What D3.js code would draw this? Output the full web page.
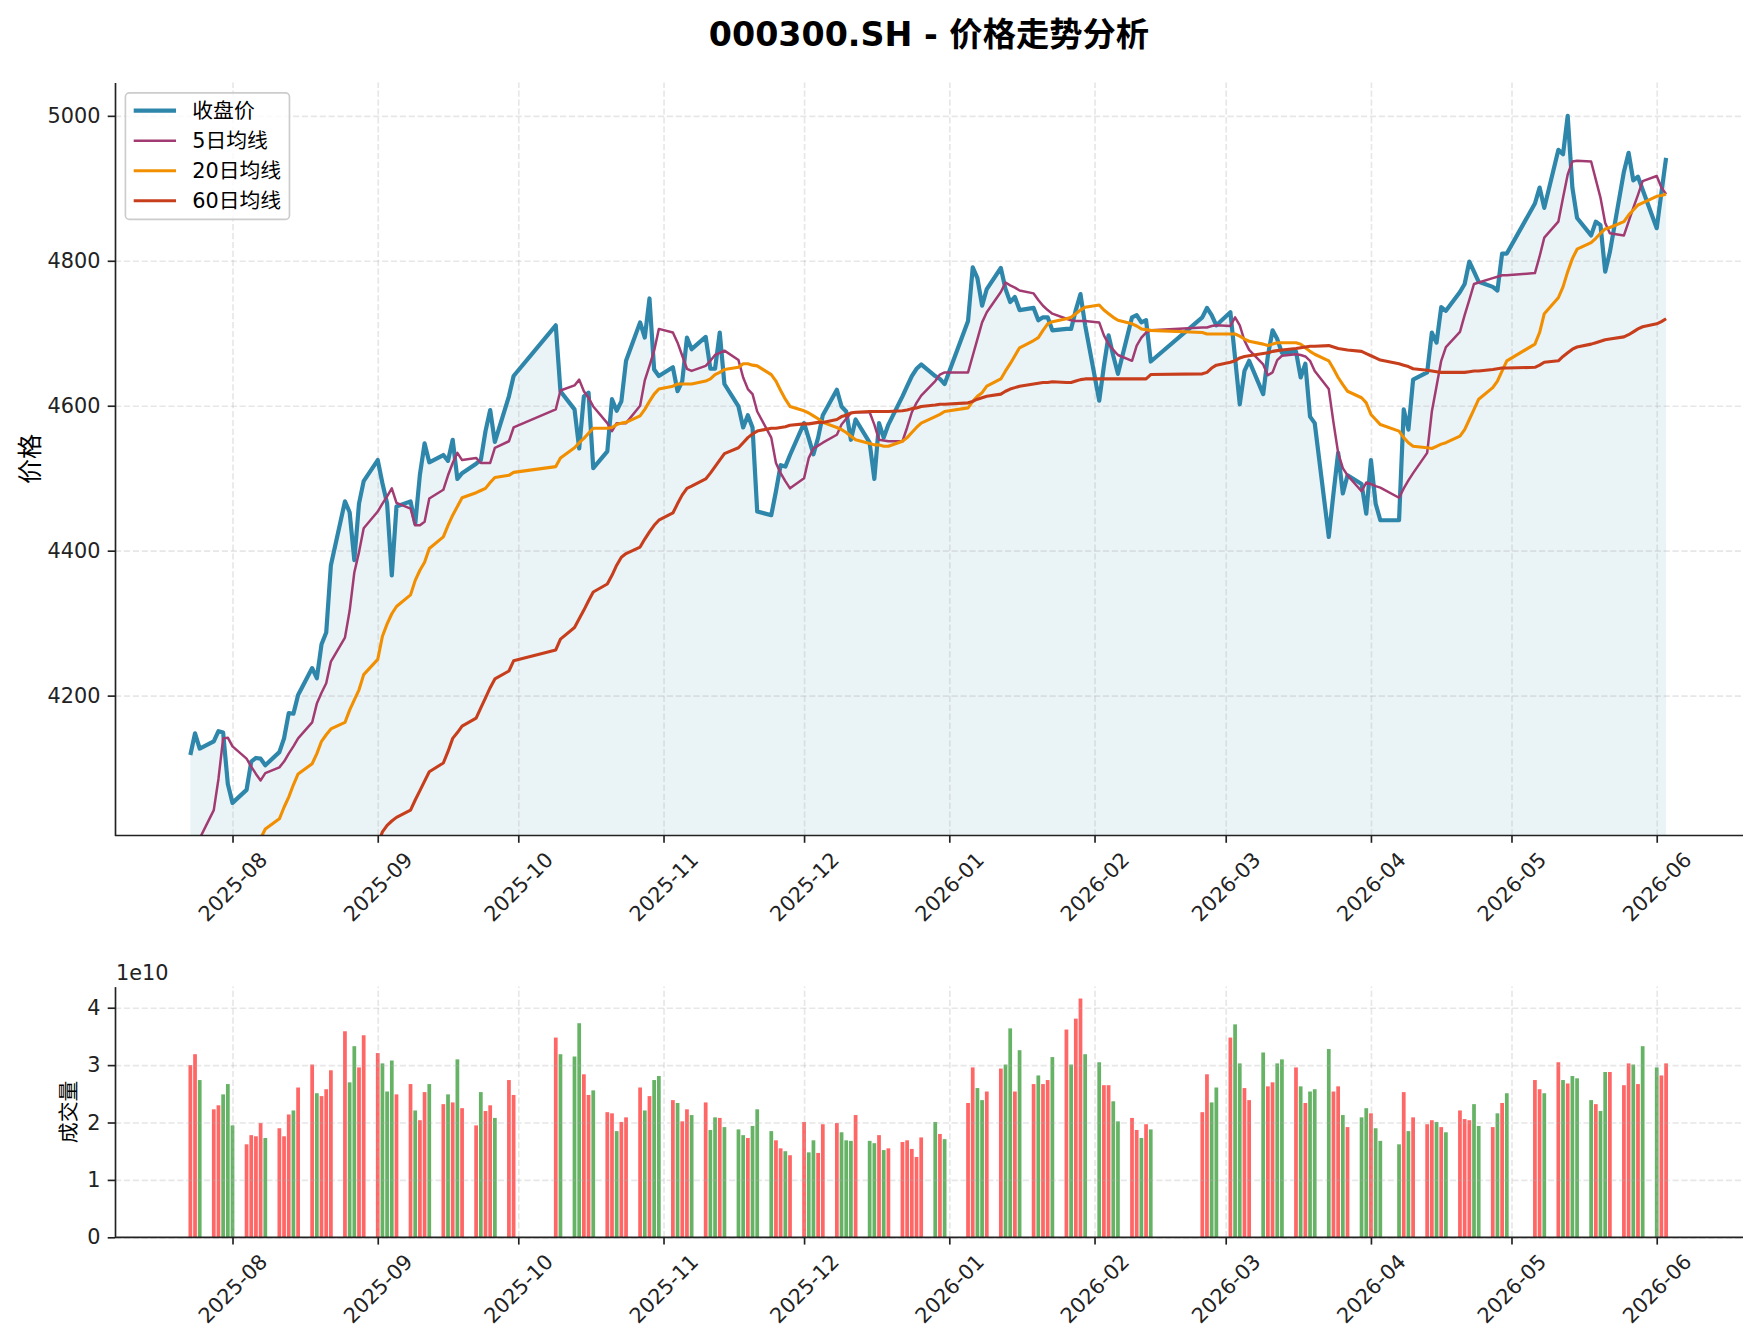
<!DOCTYPE html>
<html>
<head>
<meta charset="utf-8">
<script src="https://cdn.jsdelivr.net/npm/d3@7"></script>
<style>
  body { margin: 0; background: #fff; }
  svg { display: block; font-family: "DejaVu Sans", "Noto Sans CJK SC", sans-serif; }
</style>
</head>
<body>
<svg id="chart" width="1757" height="1343"></svg>
<script>
// 交易日范围 (工作日, 去掉节假日)
const startDate = "2025-07-23";
const endDate = "2026-06-03";
const holidays = [
    "2025-10-01", "2025-10-02", "2025-10-03", "2025-10-06", "2025-10-07", "2025-10-08",
    "2026-01-01", "2026-01-02",
    "2026-02-16", "2026-02-17", "2026-02-18", "2026-02-19", "2026-02-20", "2026-02-23",
    "2026-04-06", "2026-05-01", "2026-05-04", "2026-05-05"
];

const monthTicks = ["2025-08", "2025-09", "2025-10", "2025-11", "2025-12", "2026-01",
    "2026-02", "2026-03", "2026-04", "2026-05", "2026-06"];
const priceTicks = [4200, 4400, 4600, 4800, 5000];
const volumeTicks = [0, 1, 2, 3, 4];
const seriesNames = ["收盘价", "5日均线", "20日均线", "60日均线"];

// 收盘价, one value per trading day
const closePrice = [
    4118, 4148, 4127,
    4137, 4151, 4149, 4078, 4052,
    // Aug
    4070, 4109, 4114, 4113, 4104,
    4122, 4141, 4176, 4175, 4201,
    4238, 4224, 4271, 4287, 4380,
    4468, 4453, 4387, 4465, 4496,
    // Sep
    4525, 4493, 4465, 4366, 4461,
    4468, 4437, 4505, 4548, 4522,
    4532, 4524, 4553, 4499, 4507,
    4520, 4525, 4565, 4594, 4550,
    4613, 4641,
    // Oct
    4711, 4620,
    4595, 4541, 4613, 4618, 4514,
    4537, 4609, 4593, 4606, 4662,
    4715, 4694, 4748, 4650, 4641,
    // Nov
    4653, 4620, 4634, 4694, 4678,
    4695, 4651, 4651, 4701, 4630,
    4599, 4570, 4587, 4570, 4454,
    4449, 4482, 4518, 4516, 4532,
    // Dec
    4576, 4555, 4533, 4556, 4587,
    4622, 4599, 4592, 4553, 4581,
    4549, 4499, 4576, 4556, 4574,
    4613, 4627, 4641, 4651, 4657,
    4641, 4637, 4630,
    // Jan
    4717, 4791, 4776, 4738, 4761,
    4790, 4761, 4743, 4750, 4732,
    4735, 4718, 4722, 4722, 4704,
    4706, 4706, 4732, 4754, 4711,
    // Feb
    4607, 4655, 4697, 4669, 4644,
    4722, 4725, 4715, 4718, 4661,
    4722, 4735, 4725, 4711,
    // Mar
    4729, 4666, 4602, 4648, 4662,
    4616, 4669, 4704, 4692, 4673,
    4675, 4639, 4658, 4585, 4576,
    4419, 4479, 4535, 4479, 4504,
    4492, 4451,
    // Apr
    4525, 4465, 4442,
    4442, 4595, 4567, 4636,
    4646, 4701, 4687, 4736, 4731,
    4757, 4768, 4799, 4785, 4771,
    4764, 4759, 4810, 4810,
    // May
    4879, 4901, 4873,
    4953, 4947, 5000, 4901, 4859,
    4835, 4854, 4849, 4785, 4812,
    4923, 4949, 4911, 4916, 4898,
    // Jun
    4845, 4894, 4942
];

const ma5 = [
    3900, 3960, 4003,
    4042, 4085, 4141, 4142, 4130,
    4113, 4102, 4092, 4083, 4093,
    4101, 4109, 4120, 4130, 4141,
    4163, 4189, 4204, 4217, 4247,
    4280, 4317, 4370, 4398, 4431,
    4454, 4465, 4475, 4486, 4466,
    4458, 4435, 4435, 4440, 4472,
    4484, 4504, 4521, 4535, 4525,
    4528, 4521, 4521, 4521, 4542,
    4551, 4570,
    4595, 4621,
    4628, 4636, 4620, 4611, 4599,
    4576, 4565, 4576, 4576, 4576,
    4600, 4635, 4655, 4676, 4706,
    4701, 4687, 4669, 4651, 4648,
    4655, 4662, 4670, 4673, 4676,
    4663, 4639, 4623, 4616, 4592,
    4556, 4521, 4507, 4496, 4486,
    4500, 4528, 4541, 4545, 4549,
    4560, 4574, 4582, 4590, 4591,
    4591, 4574, 4553, 4552, 4551,
    4551, 4570, 4591, 4604, 4614,
    4634, 4643, 4646,
    4646, 4669, 4692, 4715, 4729,
    4757, 4770, 4766, 4763, 4759,
    4755, 4746, 4738, 4732, 4727,
    4720, 4718, 4717, 4717, 4717,
    4715, 4697, 4685, 4677, 4670,
    4662, 4683, 4694, 4701, 4704,
    4708, 4708, 4710, 4711,
    4710, 4722, 4711, 4690, 4677,
    4657, 4642, 4646, 4663, 4669,
    4671, 4670, 4668, 4662, 4648,
    4623, 4577, 4535, 4514, 4504,
    4482, 4494,
    4492, 4489, 4487,
    4473, 4486, 4497, 4507,
    4535, 4592, 4627, 4662, 4681,
    4702, 4725, 4746, 4768, 4770,
    4776, 4778, 4780, 4780,
    4783, 4806, 4832,
    4854, 4887, 4919, 4937, 4938,
    4937, 4912, 4887, 4852, 4838,
    4835, 4854, 4873, 4891, 4910,
    4917, 4901, 4892
];

const ma20 = [
    null, null, null,
    null, null, null, null, null,
    null, null, 3980, 4003, 4016,
    4030, 4046, 4060, 4077, 4092,
    4106, 4120, 4137, 4146, 4154,
    4163, 4180, 4194, 4208, 4229,
    4250, 4282, 4299, 4313, 4323,
    4339, 4359, 4373, 4384, 4403,
    4419, 4435, 4449, 4461, 4473,
    4480, 4483, 4486, 4494, 4501,
    4504, 4508,
    4516, 4528,
    4542, 4549, 4555, 4562, 4569,
    4569, 4570, 4574, 4576, 4577,
    4586, 4595, 4606, 4616, 4623,
    4627, 4630, 4630, 4630, 4630,
    4634, 4637, 4643, 4646, 4650,
    4653, 4658, 4658, 4656, 4655,
    4643, 4634, 4621, 4609, 4599,
    4593, 4590, 4586, 4582, 4577,
    4570, 4567, 4563, 4558, 4553,
    4548, 4546, 4546, 4544, 4544,
    4551, 4556, 4563, 4570, 4576,
    4585, 4588, 4592,
    4597, 4606, 4613, 4618, 4627,
    4637, 4648, 4658, 4669, 4680,
    4690, 4694, 4704, 4713, 4716,
    4720, 4722, 4727, 4732, 4736,
    4739, 4732, 4727, 4722, 4718,
    4713, 4710, 4706, 4705, 4704,
    4701, 4699, 4699, 4699,
    4699, 4699, 4696, 4692, 4689,
    4685, 4683, 4685, 4687, 4687,
    4687, 4685, 4680, 4675, 4671,
    4662, 4651, 4639, 4629, 4620,
    4611, 4604,
    4588, 4581, 4574,
    4565, 4556, 4549, 4544,
    4542, 4541, 4544, 4547, 4549,
    4558, 4567, 4581, 4595, 4609,
    4625, 4634, 4648, 4662,
    4685, 4701, 4727,
    4749, 4764, 4785, 4803, 4816,
    4825, 4831, 4838, 4844, 4846,
    4854, 4863, 4870, 4877, 4880,
    4889, 4890, 4892
];

const ma60 = [
    null, null, null,
    null, null, null, null, null,
    null, null, null, null, null,
    null, null, null, null, null,
    null, null, null, null, null,
    null, null, null, null, 3985,
    3995, 4012, 4021, 4027, 4032,
    4042, 4056, 4069, 4082, 4095,
    4107, 4123, 4141, 4149, 4158,
    4169, 4183, 4197, 4211, 4223,
    4234, 4248,
    4263, 4278,
    4294, 4306, 4318, 4331, 4343,
    4354, 4366, 4380, 4391, 4396,
    4405, 4416, 4426, 4435, 4442,
    4452, 4465, 4477, 4486, 4489,
    4499, 4507, 4516, 4525, 4534,
    4542, 4549, 4556, 4561, 4565,
    4569, 4569, 4570, 4571, 4573,
    4575, 4575, 4576, 4577, 4577,
    4581, 4585, 4587, 4590, 4591,
    4592, 4592, 4592, 4592, 4592,
    4593, 4594, 4596, 4597, 4599,
    4601, 4602, 4602,
    4604, 4606, 4609, 4611, 4613,
    4616, 4620, 4623, 4625, 4627,
    4630, 4631, 4632, 4632, 4633,
    4632, 4632, 4634, 4636, 4637,
    4637, 4637, 4637, 4637, 4637,
    4637, 4637, 4637, 4637, 4643,
    4644, 4646, 4652, 4656,
    4660, 4662, 4666, 4668, 4669,
    4672, 4673, 4675, 4676, 4677,
    4679, 4680, 4681, 4682, 4682,
    4683, 4681, 4679, 4678, 4677,
    4675, 4672,
    4669, 4666, 4663,
    4658, 4656, 4654, 4651,
    4649, 4648, 4647, 4646, 4646,
    4646, 4646, 4647, 4648, 4648,
    4650, 4651, 4652, 4652,
    4653, 4656, 4660,
    4662, 4668, 4673, 4678, 4681,
    4685, 4687, 4689, 4691, 4692,
    4695, 4698, 4702, 4706, 4709,
    4713, 4716, 4720
];

// 成交量, in units of 1e10
const volume = [
    3.00, 3.19, 2.74,
    2.23, 2.30, 2.49, 2.67, 1.95,
    1.62, 1.78, 1.76, 1.99, 1.73,
    1.90, 1.76, 2.14, 2.21, 2.61,
    3.01, 2.51, 2.46, 2.58, 2.91,
    3.59, 2.70, 3.33, 2.96, 3.52,
    3.21, 3.03, 2.54, 3.08, 2.49,
    2.67, 2.21, 2.04, 2.53, 2.67,
    2.32, 2.49, 2.35, 3.10, 2.25,
    1.95, 2.53, 2.20, 2.30, 2.08,
    2.74, 2.48,
    3.48, 3.19,
    3.15, 3.73, 2.84, 2.48, 2.56,
    2.18, 2.16, 1.85, 2.01, 2.09,
    2.61, 2.21, 2.46, 2.74, 2.81,
    2.39, 2.34, 2.02, 2.23, 2.13,
    2.35, 1.87, 2.09, 2.08, 1.92,
    1.88, 1.78, 1.73, 1.94, 2.23,
    1.85, 1.69, 1.55, 1.50, 1.43,
    2.01, 1.48, 1.69, 1.47, 1.97,
    1.99, 1.83, 1.69, 1.68, 2.13,
    1.68, 1.64, 1.78, 1.52, 1.55,
    1.66, 1.69, 1.54, 1.40, 1.74,
    2.01, 1.80, 1.71,
    2.34, 2.96, 2.60, 2.39, 2.54,
    2.94, 3.01, 3.64, 2.54, 3.26,
    2.67, 2.82, 2.67, 2.74, 3.14,
    3.62, 3.01, 3.81, 4.16, 3.19,
    3.05, 2.65, 2.65, 2.37, 2.02,
    2.08, 1.87, 1.73, 1.97, 1.88,
    2.18, 2.84, 2.35, 2.61,
    3.48, 3.71, 3.03, 2.60, 2.39,
    3.22, 2.63, 2.70, 3.03, 3.10,
    2.96, 2.63, 2.34, 2.54, 2.58,
    3.28, 2.54, 2.63, 2.13, 1.92,
    2.09, 2.25,
    2.16, 1.90, 1.68,
    1.62, 2.53, 1.85, 2.09,
    1.97, 2.04, 2.01, 1.92, 1.83,
    2.21, 2.06, 2.04, 2.32, 1.94,
    1.92, 2.16, 2.34, 2.51,
    2.74, 2.58, 2.51,
    3.05, 2.74, 2.68, 2.81, 2.77,
    2.39, 2.32, 2.20, 2.88, 2.88,
    2.65, 3.03, 3.01, 2.67, 3.33,
    2.96, 2.82, 3.03
];

// 1 = up day (red), 0 = down day (green)
const volumeUp = [
    1, 1, 0,
    1, 1, 0, 0, 0,
    1, 1, 1, 1, 0,
    1, 1, 1, 0, 1,
    1, 0, 1, 1, 1,
    1, 0, 0, 1, 1,
    1, 0, 0, 0, 1,
    1, 0, 1, 1, 0,
    1, 0, 1, 0, 1,
    1, 0, 1, 1, 0,
    1, 1,
    1, 0,
    0, 0, 1, 1, 0,
    1, 1, 0, 1, 1,
    1, 0, 1, 0, 0,
    1, 0, 1, 1, 0,
    1, 0, 0, 1, 0,
    0, 0, 1, 0, 0,
    0, 1, 1, 0, 1,
    1, 0, 0, 1, 1,
    1, 0, 0, 0, 1,
    0, 0, 1, 0, 1,
    1, 1, 1, 1, 1,
    0, 1, 0,
    1, 1, 0, 0, 1,
    1, 0, 0, 1, 0,
    1, 0, 1, 1, 0,
    1, 0, 1, 1, 0,
    0, 1, 1, 0, 0,
    1, 1, 0, 1, 0,
    1, 1, 0, 0,
    1, 0, 0, 1, 1,
    0, 1, 1, 0, 0,
    1, 0, 1, 0, 0,
    0, 1, 1, 0, 1,
    0, 0,
    1, 0, 0,
    0, 1, 0, 1,
    1, 1, 0, 1, 0,
    1, 1, 1, 0, 0,
    1, 0, 1, 0,
    1, 1, 0,
    1, 0, 1, 0, 0,
    0, 1, 0, 0, 1,
    1, 1, 0, 1, 0,
    0, 1, 1
];

const lineColors = ["#2E86AB", "#A23B72", "#F18F01", "#C73E1D"];
const lineWidths = [4.2, 2.5, 3.1, 3.1];

let parseDay = d3.timeParse("%Y-%m-%d");
let parseMonth = d3.timeParse("%Y-%m");
let fmtDay = d3.timeFormat("%Y-%m-%d");

// build the trading day list
let days = d3.timeDay.range(parseDay(startDate), d3.timeDay.offset(parseDay(endDate), 1))
    .filter(d => d.getDay() !== 0 && d.getDay() !== 6 && !holidays.includes(fmtDay(d)));

[closePrice, ma5, ma20, ma60, volume, volumeUp].forEach(arr => {
    if (arr.length !== days.length) console.warn("length mismatch", arr.length, days.length);
});

let svg = d3.select("#chart");
let plotLeft = 115, plotRight = 1743;
let mainTop = 82.5, mainBottom = 835.5;
let volTop = 986.6, volBottom = 1237.3;
let textColor = "#222";

let x = d3.scaleTime()
    .domain([d3.timeHour.offset(days[0], -386), d3.timeHour.offset(days[days.length - 1], 394)])
    .range([plotLeft, plotRight]);
let y = d3.scaleLinear().domain([4007, 5046]).range([mainBottom, mainTop]);
let yVol = d3.scaleLinear().domain([0, d3.max(volume) * 1.05]).range([volBottom, volTop]);

let monthDates = monthTicks.map(parseMonth);

svg.append("rect").attr("width", 1757).attr("height", 1343).attr("fill", "#fff");

// clip paths for both panels
let defs = svg.append("defs");
defs.append("clipPath").attr("id", "clipMain").append("rect")
    .attr("x", plotLeft).attr("y", mainTop)
    .attr("width", plotRight - plotLeft).attr("height", mainBottom - mainTop);
defs.append("clipPath").attr("id", "clipVol").append("rect")
    .attr("x", plotLeft).attr("y", volTop)
    .attr("width", plotRight - plotLeft).attr("height", volBottom - volTop);

function drawGrid(yScale, ticks, top, bottom) {
    let grid = svg.append("g");
    grid.append("g")
        .attr("transform", `translate(0,${bottom})`)
        .call(d3.axisBottom(x).tickValues(monthDates).tickSize(-(bottom - top)).tickFormat(""));
    grid.append("g")
        .attr("transform", `translate(${plotLeft},0)`)
        .call(d3.axisLeft(yScale).tickValues(ticks).tickSize(-(plotRight - plotLeft)).tickFormat(""));
    grid.selectAll(".domain").remove();
    grid.selectAll(".tick line")
        .attr("stroke", "#b0b0b0")
        .attr("stroke-opacity", 0.3)
        .attr("stroke-width", 1.67)
        .attr("stroke-dasharray", "6.2,2.7");
}

function styleAxis(g) {
    g.attr("font-family", null).attr("font-size", null);
    g.selectAll(".domain").attr("stroke", textColor).attr("stroke-width", 1.67);
    g.selectAll(".tick line").attr("stroke", textColor).attr("stroke-width", 1.67);
    g.selectAll(".tick text").attr("fill", textColor).style("font-size", "20.8px");
}

function drawXAxis(bottom) {
    let g = svg.append("g")
        .attr("transform", `translate(0,${bottom})`)
        .call(d3.axisBottom(x).tickValues(monthDates).tickFormat(d3.timeFormat("%Y-%m"))
            .tickSize(7.3).tickSizeOuter(0));
    styleAxis(g);
    g.select(".domain").attr("d", `M${plotLeft},0H${plotRight}`);
    g.selectAll(".tick text")
        .attr("y", 0).attr("dy", null)
        .attr("text-anchor", "middle")
        .attr("dominant-baseline", "central")
        .attr("transform", "translate(0,51.5) rotate(-45)");
}

function drawYAxis(yScale, ticks, fmt) {
    let g = svg.append("g")
        .attr("transform", `translate(${plotLeft},0)`)
        .call(d3.axisLeft(yScale).tickValues(ticks).tickFormat(fmt)
            .tickSize(7.3).tickPadding(7.3).tickSizeOuter(0));
    styleAxis(g);
}

// ---- main price panel ----
let area = d3.area()
    .x((v, i) => x(days[i]))
    .y0(mainBottom)
    .y1(v => y(v));

svg.append("path")
    .datum(closePrice)
    .attr("clip-path", "url(#clipMain)")
    .attr("fill", lineColors[0])
    .attr("fill-opacity", 0.1)
    .attr("d", area);

drawGrid(y, priceTicks, mainTop, mainBottom);

let line = d3.line()
    .defined(v => v != null)
    .x((v, i) => x(days[i]))
    .y(v => y(v));

let series = [closePrice, ma5, ma20, ma60];
let lines = svg.append("g").attr("clip-path", "url(#clipMain)");
series.forEach((s, k) => {
    lines.append("path")
        .datum(s)
        .attr("fill", "none")
        .attr("stroke", lineColors[k])
        .attr("stroke-width", lineWidths[k])
        .attr("stroke-linejoin", "round")
        .attr("d", line);
});

drawXAxis(mainBottom);
drawYAxis(y, priceTicks, d3.format("d"));

// title and y label
svg.append("text")
    .attr("x", (plotLeft + plotRight) / 2)
    .attr("y", 46)
    .attr("text-anchor", "middle")
    .attr("font-weight", "bold")
    .attr("font-size", 33.3)
    .attr("fill", "#000")
    .text("000300.SH - 价格走势分析");

svg.append("text")
    .attr("transform", `translate(30,${(mainTop + mainBottom) / 2}) rotate(-90)`)
    .attr("text-anchor", "middle")
    .attr("dominant-baseline", "central")
    .attr("font-size", 25)
    .attr("fill", "#000")
    .text("价格");

// legend
let legend = svg.append("g");
let legendBox = legend.append("rect")
    .attr("x", 125.4).attr("y", 92.9)
    .attr("rx", 4).attr("ry", 4)
    .attr("height", 126.5)
    .attr("fill", "#fff").attr("fill-opacity", 0.8)
    .attr("stroke", "#cccccc").attr("stroke-width", 1.67);
let maxTextW = 0;
seriesNames.forEach((name, k) => {
    let cy = 110.7 + k * 30;
    legend.append("line")
        .attr("x1", 133.7).attr("x2", 176)
        .attr("y1", cy).attr("y2", cy)
        .attr("stroke", lineColors[k])
        .attr("stroke-width", lineWidths[k]);
    let t = legend.append("text")
        .attr("x", 192.3).attr("y", cy)
        .attr("dominant-baseline", "central")
        .attr("font-size", 20.8)
        .attr("fill", "#000")
        .text(name);
    maxTextW = Math.max(maxTextW, t.node().getComputedTextLength());
});
legendBox.attr("width", 192.3 + maxTextW + 8.3 - 125.4);

// ---- volume panel ----
let barW = x(d3.timeMinute.offset(days[0], 1152)) - x(days[0]);
svg.append("g")
    .attr("clip-path", "url(#clipVol)")
    .selectAll("rect")
    .data(volume)
    .join("rect")
    .attr("x", (v, i) => x(days[i]) - barW / 2)
    .attr("y", v => yVol(v))
    .attr("width", barW)
    .attr("height", v => volBottom - yVol(v))
    .attr("fill", (v, i) => volumeUp[i] ? "red" : "green")
    .attr("fill-opacity", 0.6);

drawGrid(yVol, volumeTicks, volTop, volBottom);
drawXAxis(volBottom);
drawYAxis(yVol, volumeTicks, d3.format("d"));

svg.append("text")
    .attr("x", 116)
    .attr("y", 980)
    .attr("font-size", 20.8)
    .attr("fill", textColor)
    .text("1e10");

svg.append("text")
    .attr("transform", `translate(69,${(volTop + volBottom) / 2}) rotate(-90)`)
    .attr("text-anchor", "middle")
    .attr("dominant-baseline", "central")
    .attr("font-size", 20.8)
    .attr("fill", "#000")
    .text("成交量");
</script>
</body>
</html>
